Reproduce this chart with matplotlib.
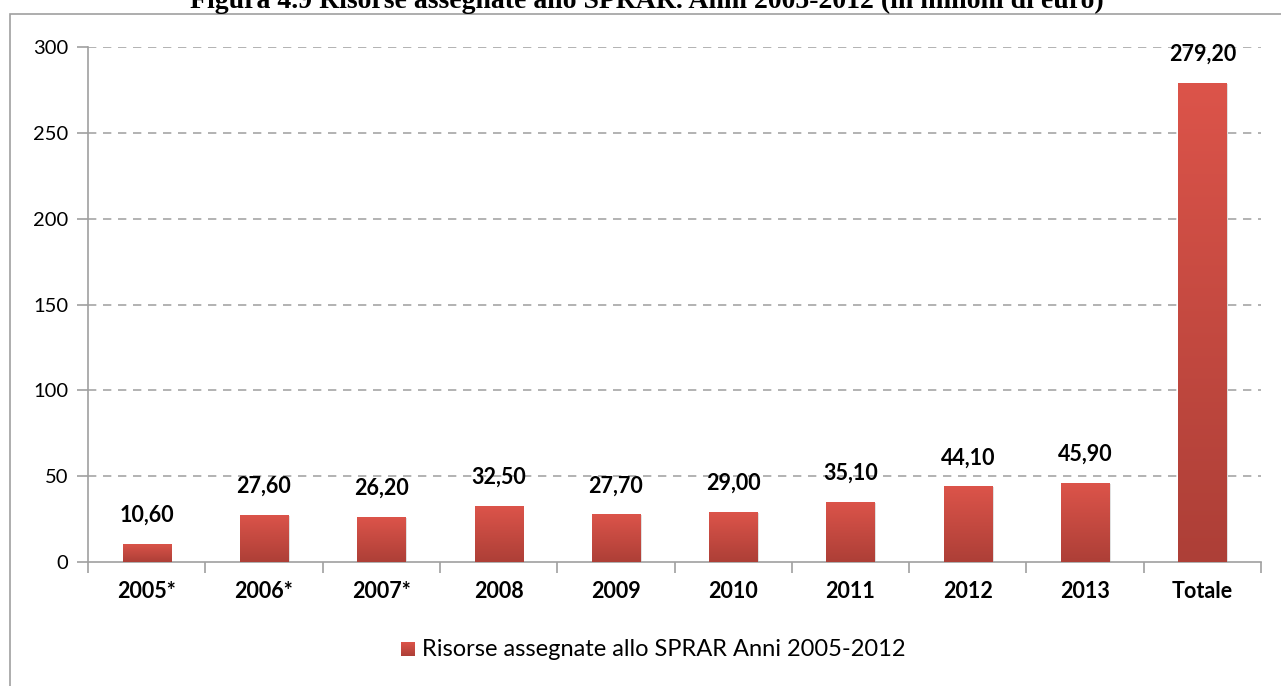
import numpy as np
import matplotlib
matplotlib.use("Agg")
import matplotlib.pyplot as plt
from matplotlib.patches import Rectangle
from matplotlib.colors import LinearSegmentedColormap

categories = ["2005*", "2006*", "2007*", "2008", "2009", "2010", "2011", "2012", "2013", "Totale"]
values = [10.60, 27.60, 26.20, 32.50, 27.70, 29.00, 35.10, 44.10, 45.90, 279.20]
yticks = [0, 50, 100, 150, 200, 250, 300]
series_name = "Risorse assegnate allo SPRAR Anni 2005-2012"
title = "Figura 4.9 Risorse assegnate allo SPRAR. Anni 2005-2012 (in milioni di euro)"

plt.rcParams['font.family'] = ['Lato', 'DejaVu Sans']

W, H = 1281, 686
fig = plt.figure(figsize=(W / 100, H / 100), dpi=100)

# outer chart frame
fig.patches.append(Rectangle((10 / W, -0.1), 1.2, (H - 14) / H + 0.1, transform=fig.transFigure,
                             fill=False, edgecolor="#a0a0a0", linewidth=1.2))
# partially visible title (cut at the top edge, as in the reference)
fig.text(647 / W, 1 - 8 / H, title, ha="center", va="baseline", fontsize=20,
         fontweight="bold", family=["Liberation Serif", "DejaVu Serif"])

ax = fig.add_axes([88 / W, (H - 562) / H, (1261 - 88) / W, (562 - 47) / H])
x = np.arange(len(categories))
width = 0.41
cmap = LinearSegmentedColormap.from_list("red", ["#ad3f37", "#dc544a"])
grad = np.linspace(0, 1, 256).reshape(-1, 1)

bars = ax.bar(x, values, width=width, color="#d04f45", zorder=3)
for b in bars:
    ax.add_patch(Rectangle((b.get_x() + 0.015, 0), b.get_width(), b.get_height() - 0.6,
                           facecolor="#000000", alpha=0.12, zorder=2, linewidth=0))
    im = ax.imshow(grad, cmap=cmap, aspect="auto", origin="lower",
                   extent=[b.get_x(), b.get_x() + b.get_width(), 0, b.get_height()], zorder=4)
    im.set_clip_path(b)

for xi, v in zip(x, values):
    ax.annotate(f"{v:.2f}".replace(".", ","), (xi, v), xytext=(0, 13), textcoords="offset points",
                ha="center", va="bottom", fontsize=15.5, fontweight="bold", zorder=5)

ax.set_xlim(-0.5, len(categories) - 0.5)
ax.set_ylim(0, 300)
ax.set_yticks(yticks)
ax.set_yticklabels([str(t) for t in yticks], fontsize=14.5)
ax.set_xticks(x)
ax.set_xticklabels(categories, fontsize=15.5, fontweight="bold")
ax.set_xticks(np.arange(-0.5, len(categories), 1.0), minor=True)
ax.tick_params(axis="x", which="major", length=0, pad=14)
ax.tick_params(axis="x", which="minor", length=8, color="#a0a0a0", width=1.2)
ax.tick_params(axis="y", length=8, color="#a0a0a0", width=1.2, pad=6)

for s in ["top", "right"]:
    ax.spines[s].set_visible(False)
for s in ["left", "bottom"]:
    ax.spines[s].set_color("#a0a0a0")
    ax.spines[s].set_linewidth(1.2)

for t in yticks[1:]:
    ax.axhline(t, color="#a6a6a6", linestyle=(0, (5, 4)), linewidth=1.2, zorder=1)

# legend
lx, ly = 401 / W, 1 - 649 / H
legax = fig.add_axes([lx, ly - 7 / H, 13 / W, 14 / H])
legax.imshow(grad, cmap=cmap, aspect="auto", origin="lower", extent=[0, 1, 0, 1])
legax.axis("off")
fig.text(lx + 21 / W, ly, series_name, ha="left", va="center", fontsize=17)

fig.savefig("out.png", dpi=100)
